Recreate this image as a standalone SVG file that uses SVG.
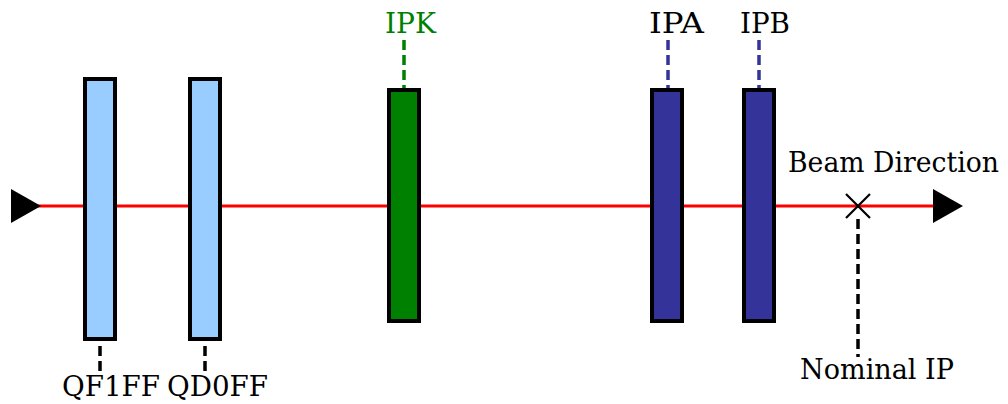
<svg xmlns="http://www.w3.org/2000/svg" width="1008" height="404" viewBox="0 0 1008 404">
  <style>
    .mag { stroke: #000; stroke-width: 4; }
    .quad { fill: #99ccff; }
    .kick { fill: #008000; }
    .bpm { fill: #333399; }
    .dash { stroke-width: 3.5; stroke-dasharray: 10 5; fill: none; }
    text { font-family: "DejaVu Serif", serif; font-size: 27px; }
  </style>
  <rect width="1008" height="404" fill="#fff"/>

  <g id="connectors">
    <!-- beam line -->
    <line x1="38" y1="206" x2="936" y2="206" stroke="#ff0000" stroke-width="3"/>
    <polygon points="11,189 41,206 11,223" fill="#000"/>
    <polygon points="933,189 963,206 933,223" fill="#000"/>
    <!-- leader lines -->
    <line class="dash" x1="100" y1="346" x2="100" y2="374" stroke="#000"/>
    <line class="dash" x1="205" y1="346" x2="205" y2="374" stroke="#000"/>
    <line class="dash" x1="404" y1="40" x2="404" y2="88" stroke="#008000"/>
    <line class="dash" x1="668" y1="40" x2="668" y2="88" stroke="#333399"/>
    <line class="dash" x1="759" y1="40" x2="759" y2="88" stroke="#333399"/>
    <line class="dash" x1="858" y1="219" x2="858" y2="357" stroke="#000"/>
  </g>

  <g fill="#000">
    <g id="QF1FF">
      <rect class="mag quad" x="85" y="79" width="30" height="260"/>
      <text x="62" y="396" textLength="98" lengthAdjust="spacingAndGlyphs">QF1FF</text>
    </g>
    <g id="QD0FF">
      <rect class="mag quad" x="190" y="79" width="30" height="260"/>
      <text x="167" y="396" textLength="101" lengthAdjust="spacingAndGlyphs">QD0FF</text>
    </g>
    <g id="IPK">
      <rect class="mag kick" x="389" y="90" width="30" height="231"/>
      <text x="385" y="33" textLength="51" lengthAdjust="spacingAndGlyphs" fill="#008000">IPK</text>
    </g>
    <g id="IPA">
      <rect class="mag bpm" x="652" y="90" width="30" height="231"/>
      <text x="649" y="33" textLength="55" lengthAdjust="spacingAndGlyphs">IPA</text>
    </g>
    <g id="IPB">
      <rect class="mag bpm" x="744" y="90" width="30" height="231"/>
      <text x="740" y="33" textLength="50" lengthAdjust="spacingAndGlyphs">IPB</text>
    </g>
    <g id="NominalIP">
      <path d="M846 194 L870 218 M870 194 L846 218" stroke="#000" stroke-width="2.2" fill="none"/>
      <text x="800" y="379" textLength="154" lengthAdjust="spacingAndGlyphs">Nominal IP</text>
    </g>
    <g id="BeamDirection">
      <text x="788" y="172" textLength="211" lengthAdjust="spacingAndGlyphs">Beam Direction</text>
    </g>
  </g>
</svg>
